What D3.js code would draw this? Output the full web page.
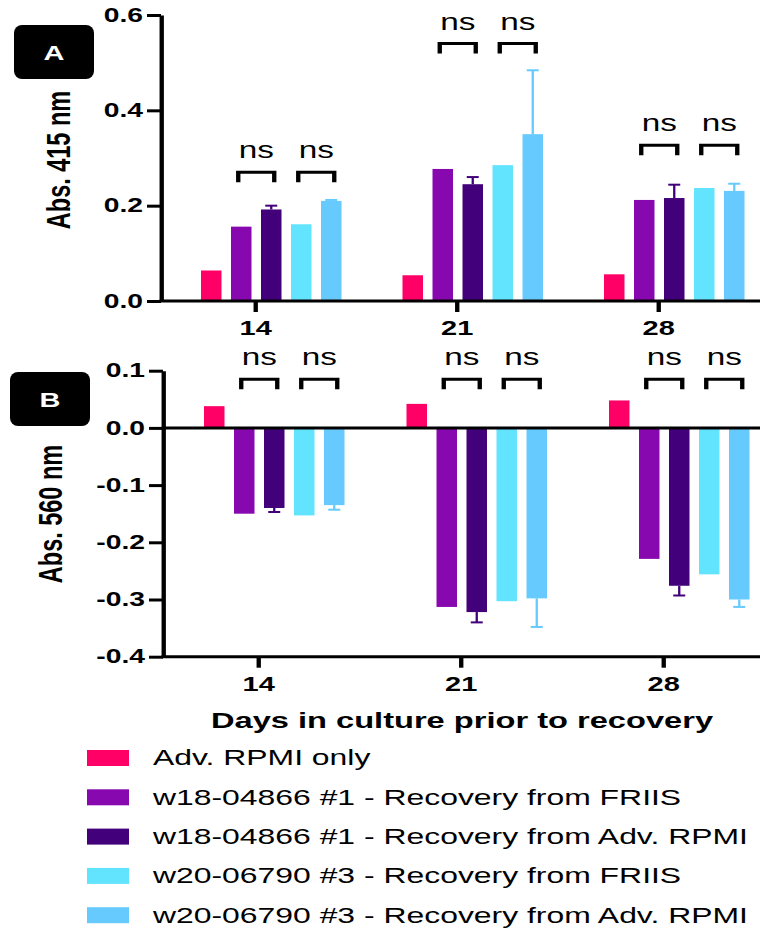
<!DOCTYPE html>
<html>
<head>
<meta charset="utf-8">
<script src="https://cdn.jsdelivr.net/npm/d3@7"></script>
<style>
  body { margin: 0; background: #fff; }
  text { font-family: "Liberation Sans", Arial, sans-serif; }
</style>
</head>
<body>
<svg></svg>
<script>
var width = 760;
var height = 929;
var SX = 1.45; // the figure is stretched sideways

var days = ["14", "21", "28"];
var series = [
    "Adv. RPMI only",
    "w18-04866 #1 - Recovery from FRIIS",
    "w18-04866 #1 - Recovery from Adv. RPMI",
    "w20-06790 #3 - Recovery from FRIIS",
    "w20-06790 #3 - Recovery from Adv. RPMI"
];
var colors = ["#ff0066", "#8808b0", "#42007a", "#62e3fe", "#66caff"];

// Abs. 415 nm, one row per day
var abs415 = [
    [0.064, 0.156, 0.192, 0.161, 0.210],
    [0.054, 0.277, 0.245, 0.285, 0.350],
    [0.056, 0.212, 0.216, 0.237, 0.231]
];
var err415 = [
    [0, 0, 0.008, 0, 0.002],
    [0, 0, 0.015, 0, 0.134],
    [0, 0, 0.028, 0, 0.015]
];
// Abs. 560 nm
var abs560 = [
    [0.038, -0.150, -0.140, -0.153, -0.135],
    [0.042, -0.313, -0.322, -0.303, -0.298],
    [0.048, -0.229, -0.276, -0.256, -0.300]
];
var err560 = [
    [0, 0, 0.007, 0, 0.008],
    [0, 0, 0.018, 0, 0.050],
    [0, 0, 0.017, 0, 0.013]
];

var pairs = [[1, 2], [3, 4]];
var bracketA = [0.270, 0.540, 0.327];
var bracketB = [0.085, 0.085, 0.085];

var yTicksA = [0, 0.2, 0.4, 0.6];
var yTicksB = [0.1, 0, -0.1, -0.2, -0.3, -0.4];

var svg = d3.select("svg")
    .attr("width", width)
    .attr("height", height);

var root = svg.append("g").attr("transform", "scale(" + SX + ",1)");

var inner = d3.scaleBand()
    .domain(d3.range(series.length))
    .range([-54 / SX, 86.5 / SX])
    .paddingInner(0.317);

function panel(opts) {
    var g = root.append("g");
    var x = opts.x, y = opts.y;

    // bars
    opts.values.forEach(function (row, di) {
        var gx = x(days[di]);
        g.selectAll(null)
            .data(row)
            .enter()
            .append("rect")
            .attr("x", (d, i) => gx + inner(i))
            .attr("width", inner.bandwidth())
            .attr("y", d => Math.min(y(d), y(0)))
            .attr("height", d => Math.abs(y(d) - y(0)))
            .attr("fill", (d, i) => colors[i]);

        // error bars
        row.forEach(function (v, i) {
            var e = opts.errors[di][i];
            if (!e) return;
            var cx = gx + inner(i) + inner.bandwidth() / 2;
            var end = v + (v < 0 ? -e : e);
            g.append("line")
                .attr("x1", cx).attr("x2", cx)
                .attr("y1", y(v)).attr("y2", y(end))
                .attr("stroke", colors[i]).attr("stroke-width", 1.6);
            g.append("line")
                .attr("x1", cx - 6 / SX).attr("x2", cx + 6 / SX)
                .attr("y1", y(end)).attr("y2", y(end))
                .attr("stroke", colors[i]).attr("stroke-width", 2);
        });

        // significance brackets
        pairs.forEach(function (p) {
            var top = y(opts.brackets[di]);
            var x1 = gx + inner(p[0]) + inner.bandwidth() / 2 - 3 / SX;
            var x2 = gx + inner(p[1]) + inner.bandwidth() / 2 + 3 / SX;
            g.append("path")
                .attr("d", "M" + x1 + "," + (top + 10) + "V" + top + "H" + x2 + "V" + (top + 10))
                .attr("fill", "none")
                .attr("stroke", "#000")
                .attr("stroke-width", 3);
            g.append("text")
                .attr("x", (x1 + x2) / 2)
                .attr("y", top - 14)
                .attr("text-anchor", "middle")
                .style("font-size", "23px")
                .text("ns");
        });
    });

    // zero line (panel B)
    if (opts.zeroLine) {
        g.append("line")
            .attr("x1", opts.axisX).attr("x2", width / SX)
            .attr("y1", y(0)).attr("y2", y(0))
            .attr("stroke", "#000").attr("stroke-width", 3);
    }

    // y axis
    var yAxis = d3.axisLeft(y)
        .tickValues(opts.yTicks)
        .tickFormat(d => d.toFixed(1))
        .tickSize(14 / SX)
        .tickSizeOuter(0)
        .tickPadding(4 / SX);
    var ya = g.append("g")
        .attr("transform", "translate(" + opts.axisX + ",0)")
        .call(yAxis);
    ya.selectAll("path, line").attr("stroke-width", 3);
    ya.selectAll("text")
        .style("font-size", "19.5px")
        .style("font-weight", "bold")
        .style("font-family", "'Liberation Sans', Arial, sans-serif")
        .attr("fill", "#000");

    // x axis
    var baseY = y(opts.yTicks.indexOf(0) === 0 ? 0 : d3.min(opts.yTicks));
    var xa = g.append("g")
        .attr("transform", "translate(0," + baseY + ")")
        .call(d3.axisBottom(x).tickSize(11).tickPadding(9));
    xa.select(".domain").remove();
    xa.selectAll("line").attr("stroke-width", 3);
    xa.selectAll("text")
        .style("font-size", "20px")
        .style("font-weight", "bold")
        .style("font-family", "'Liberation Sans', Arial, sans-serif")
        .attr("fill", "#000");
    g.append("line")
        .attr("x1", opts.axisX - 1).attr("x2", width / SX)
        .attr("y1", baseY).attr("y2", baseY)
        .attr("stroke", "#000").attr("stroke-width", 3);

    // y label
    g.append("text")
        .attr("transform", "translate(" + opts.labelX + "," + opts.labelY + ") rotate(-90)")
        .attr("text-anchor", "middle")
        .style("font-size", "23.5px")
        .style("font-weight", "bold")
        .text(opts.label);

    // panel letter box
    g.append("rect")
        .attr("x", opts.box[0]).attr("y", opts.box[1])
        .attr("width", 80 / SX).attr("height", 54)
        .attr("rx", 8 / SX).attr("ry", 8)
        .attr("fill", "#000");
    g.append("text")
        .attr("x", opts.box[0] + 40 / SX)
        .attr("y", opts.box[1] + 35)
        .attr("text-anchor", "middle")
        .attr("fill", "#fff")
        .style("font-size", "20px")
        .style("font-weight", "bold")
        .text(opts.letter);
}

// panel A
panel({
    x: d3.scalePoint().domain(days).range([255 / SX, 658 / SX]),
    y: d3.scaleLinear().domain([0, 0.6]).range([301, 15]),
    values: abs415,
    errors: err415,
    brackets: bracketA,
    yTicks: yTicksA,
    axisX: 161 / SX,
    label: "Abs. 415 nm",
    labelX: 70 / SX,
    labelY: 160,
    box: [14 / SX, 25],
    letter: "A"
});

// panel B
panel({
    x: d3.scalePoint().domain(days).range([258 / SX, 663 / SX]),
    y: d3.scaleLinear().domain([-0.4, 0.1]).range([656.7, 370.7]),
    values: abs560,
    errors: err560,
    brackets: bracketB,
    yTicks: yTicksB,
    axisX: 163 / SX,
    zeroLine: true,
    label: "Abs. 560 nm",
    labelX: 62 / SX,
    labelY: 514,
    box: [10 / SX, 372],
    letter: "B"
});

// x axis title
root.append("text")
    .attr("x", 462 / SX)
    .attr("y", 728)
    .attr("text-anchor", "middle")
    .style("font-size", "22.5px")
    .style("font-weight", "bold")
    .text("Days in culture prior to recovery");

// legend
var legend = root.append("g");
legend.selectAll("rect")
    .data(series)
    .enter()
    .append("rect")
    .attr("x", 87 / SX)
    .attr("y", (d, i) => 750 + i * 39.3)
    .attr("width", 42 / SX)
    .attr("height", 16)
    .attr("fill", (d, i) => colors[i]);
legend.selectAll("text")
    .data(series)
    .enter()
    .append("text")
    .attr("x", 153 / SX)
    .attr("y", (d, i) => 765.5 + i * 39.3)
    .style("font-size", "22px")
    .text(d => d);
</script>
</body>
</html>
